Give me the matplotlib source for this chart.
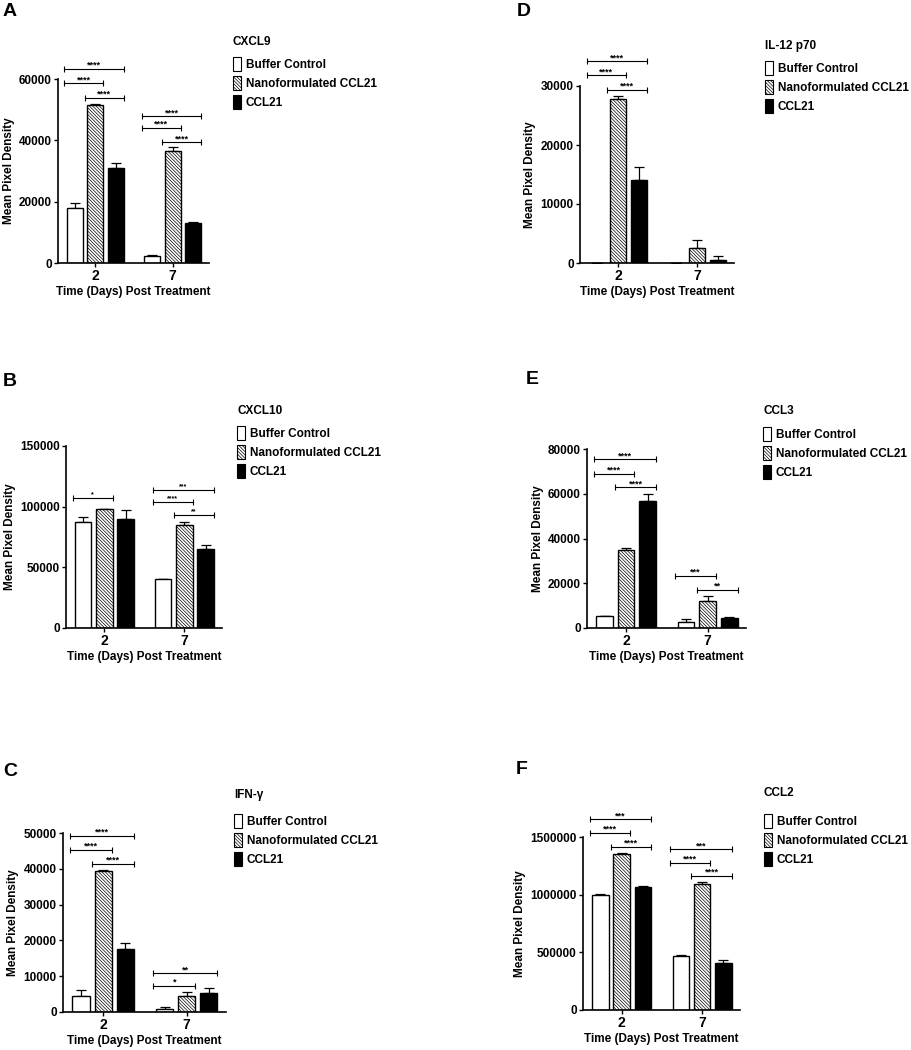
import matplotlib
matplotlib.use('Agg')
import matplotlib.pyplot as plt
import matplotlib.patches as mpatches
from matplotlib.ticker import StrMethodFormatter

plt.rcParams['font.family'] = ['Liberation Sans', 'DejaVu Sans']
plt.rcParams['font.weight'] = 'bold'
plt.rcParams['hatch.linewidth'] = 0.5
plt.rcParams['hatch.color'] = '#333333'

W, H = 911, 1050

groups = ['2', '7']
series = ['Buffer Control', 'Nanoformulated CCL21', 'CCL21']
hatches = ['', '\\' * 10, '']
faces = ['white', 'white', 'black']

# rows: Buffer Control, Nanoformulated CCL21, CCL21 ; columns: day 2, day 7
cxcl9_mean = [[18000, 2300], [51500, 36500], [31000, 13000]]
cxcl9_err = [[1700, 300], [300, 1300], [1500, 300]]
cxcl9_sig = [(0, 0, 2, 63300, '****'), (0, 0, 1, 58600, '****'), (0, 1, 2, 53900, '****'),
             (1, 0, 2, 47900, '****'), (1, 0, 1, 44100, '****'), (1, 1, 2, 39400, '****')]

il12_mean = [[0, 0], [27800, 2500], [14100, 500]]
il12_err = [[0, 0], [500, 1400], [2100, 750]]
il12_sig = [(0, 0, 2, 34200, '****'), (0, 0, 1, 31800, '****'), (0, 1, 2, 29400, '****')]

cxcl10_mean = [[87500, 40000], [98000, 85000], [90000, 64700]]
cxcl10_err = [[3900, 300], [400, 2500], [7400, 3300]]
cxcl10_sig = [(0, 0, 1, 107000, '*'),
              (1, 0, 2, 113700, '***'), (1, 0, 1, 104000, '****'), (1, 1, 2, 92800, '**')]

ccl3_mean = [[5300, 2800], [34700, 11900], [56700, 4600]]
ccl3_err = [[200, 1200], [1000, 2600], [3000, 200]]
ccl3_sig = [(0, 0, 2, 75400, '****'), (0, 0, 1, 69000, '****'), (0, 1, 2, 62800, '****'),
            (1, 0, 1, 23400, '***'), (1, 1, 2, 17200, '**')]

ifng_mean = [[4600, 900], [39500, 4400], [17500, 5400]]
ifng_err = [[1600, 400], [200, 1300], [1700, 1200]]
ifng_sig = [(0, 0, 2, 49200, '****'), (0, 0, 1, 45300, '****'), (0, 1, 2, 41400, '****'),
            (1, 0, 2, 10800, '**'), (1, 0, 1, 7300, '*')]

ccl2_mean = [[995000, 471000], [1350000, 1095000], [1070000, 407000]]
ccl2_err = [[10000, 10000], [10000, 12000], [8000, 28000]]
ccl2_sig = [(0, 0, 2, 1653000, '***'), (0, 0, 1, 1535000, '****'), (0, 1, 2, 1416000, '****'),
            (1, 0, 2, 1393000, '***'), (1, 0, 1, 1277000, '****'), (1, 1, 2, 1162000, '****')]

fig = plt.figure(figsize=(W / 100, H / 100), dpi=100)

step = 0.265
bw = 0.205


def panel(box, letter, letter_pos, title, title_pos, leg_pos, mean, err, sig, ymax, yticks,
          star_fs=6.5):
    l, r, b, t = box
    ax = fig.add_axes([l / W, 1 - b / H, (r - l) / W, (b - t) / H])
    for k in range(3):
        xs = [g + (k - 1) * step for g in range(len(groups))]
        ax.bar(xs, mean[k], width=bw, color=faces[k], edgecolor='black', lw=1.0,
               hatch=hatches[k], zorder=2)
        ax.errorbar(xs, mean[k], yerr=[[0] * len(xs), err[k]], fmt='none', ecolor='black',
                    elinewidth=0.9, capsize=3.5, capthick=0.9, zorder=1)
    for g, i, j, y, lab in sig:
        x1 = g + (i - 1) * step - bw / 2 - 0.03
        x2 = g + (j - 1) * step + bw / 2
        ax.plot([x1, x2], [y, y], color='black', lw=0.8, marker='|', markersize=4,
                markeredgewidth=0.8, clip_on=False)
        ax.annotate(lab, ((x1 + x2) / 2, y), xytext=(0, 2.5), textcoords='offset points',
                    ha='center', va='center', fontsize=star_fs, fontweight='bold',
                    annotation_clip=False)
    ax.set_xlim(-0.48, 1.47)
    ax.set_ylim(0, ymax)
    ax.set_yticks(yticks)
    ax.yaxis.set_major_formatter(StrMethodFormatter('{x:.0f}'))
    ax.set_xticks(range(len(groups)))
    ax.set_xticklabels(groups)
    for s in ['top', 'right']:
        ax.spines[s].set_visible(False)
    for s in ['left', 'bottom']:
        ax.spines[s].set_linewidth(1.2)
    ax.tick_params(axis='both', labelsize=8.5, width=1.0, length=3, pad=1.5)
    ax.tick_params(axis='x', labelsize=10)
    ax.set_ylabel('Mean Pixel Density', fontsize=8.5, fontweight='bold', labelpad=3)
    ax.set_xlabel('Time (Days) Post Treatment', fontsize=8.5, fontweight='bold', labelpad=2)

    fig.text(letter_pos[0] / W, 1 - letter_pos[1] / H, letter, fontsize=14,
             fontweight='bold', ha='left', va='center')
    fig.text(title_pos[0] / W, 1 - title_pos[1] / H, title, fontsize=8.5,
             fontweight='bold', ha='left', va='center')
    handles = [mpatches.Patch(facecolor=faces[k], edgecolor='black', hatch=hatches[k], lw=0.8)
               for k in range(3)]
    ax.legend(handles, series, loc='upper left',
              bbox_to_anchor=(leg_pos[0] / W, 1 - (leg_pos[1] - 8) / H),
              bbox_transform=fig.transFigure, frameon=False, fontsize=8.5,
              handlelength=0.7, handleheight=1.5, handletextpad=0.4, labelspacing=0.38,
              borderpad=0, borderaxespad=0)
    return ax


panel((58, 209, 263, 79), 'A', (3, 12), 'CXCL9', (233, 42), (233, 65),
      cxcl9_mean, cxcl9_err, cxcl9_sig, 60000, [0, 20000, 40000, 60000])
panel((580, 734, 263, 86), 'D', (517, 12), 'IL-12 p70', (765, 46), (765, 69),
      il12_mean, il12_err, il12_sig, 30000, [0, 10000, 20000, 30000])
panel((66, 222, 628, 446), 'B', (3, 382), 'CXCL10', (237, 411), (237, 434),
      cxcl10_mean, cxcl10_err, cxcl10_sig, 150000, [0, 50000, 100000, 150000], star_fs=5)
panel((587, 746, 628, 449), 'E', (526, 379), 'CCL3', (763, 411), (763, 435),
      ccl3_mean, ccl3_err, ccl3_sig, 80000, [0, 20000, 40000, 60000, 80000])
panel((63, 226, 1012, 833), 'C', (3, 772), 'IFN-\u03b3', (234, 795), (234, 822),
      ifng_mean, ifng_err, ifng_sig, 50000, [0, 10000, 20000, 30000, 40000, 50000])
panel((583, 740, 1010, 837), 'F', (516, 770), 'CCL2', (764, 793), (764, 822),
      ccl2_mean, ccl2_err, ccl2_sig, 1500000, [0, 500000, 1000000, 1500000])

fig.savefig('out.png', dpi=100)
plt.close(fig)
